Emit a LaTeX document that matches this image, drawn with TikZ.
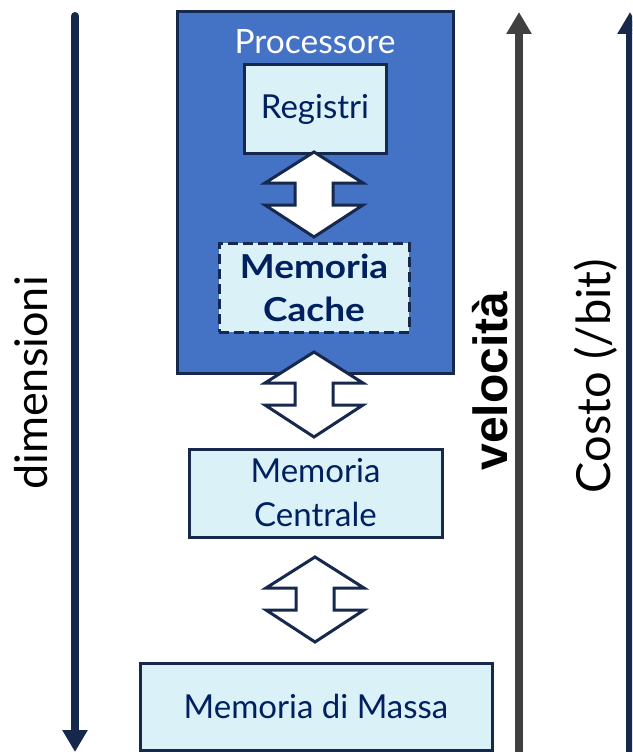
\documentclass[tikz,border=0pt]{standalone}
\usepackage{fontspec}
\setmainfont{Lato}
\newfontfamily\arialfont{Liberation Sans}
\usetikzlibrary{arrows.meta}
\definecolor{navy}{HTML}{16294D}
\definecolor{textnavy}{HTML}{002060}
\definecolor{procblue}{HTML}{4472C4}
\definecolor{lightcyan}{HTML}{DAF1F7}
\definecolor{darkgray}{HTML}{404040}
\tikzset{
  membox/.style={draw=navy, line width=3pt, fill=lightcyan, text=textnavy,
    align=center, inner sep=0pt, font=\fontsize{33}{44}\selectfont},
  procbox/.style={draw=navy, line width=3pt, fill=procblue, inner sep=0pt},
  dblarr/.pic={\draw[draw=navy, fill=white, line width=3pt, line join=miter]
     (0,0) -- (49,31) -- (19,31) -- (19,53) -- (49,53) -- (0,85)
     -- (-49,53) -- (-19,53) -- (-19,31) -- (-49,31) -- cycle;},
  sidearrow/.style={line width=8pt, -{Triangle[width=24pt,length=22pt]}},
  sidelabel/.style={rotate=90, anchor=base, inner sep=0pt}
}
\begin{document}
\begin{tikzpicture}[x=1pt,y=-1pt]
\useasboundingbox (0,0) rectangle (632,752);
\clip (0,0) rectangle (632,752);
% processor
\node[procbox, minimum width=276pt, minimum height=361pt] (proc) at (315,192.5) {};
\node[text=white, font=\fontsize{33.5}{37}\selectfont, anchor=base] (proclbl) at (315,53) {Processore};
\node[membox, minimum width=142pt, minimum height=88pt] (reg) at (315,109) {Registri};
\node[membox, dashed, dash pattern=on 10pt off 5pt, minimum width=190pt, minimum height=89pt,
      font=\fontsize{33}{43}\selectfont\bfseries\addfontfeatures{FakeStretch=1.12}] (cache) at (314,287.5) {Memoria\\Cache};
\node[membox, minimum width=253pt, minimum height=88pt] (central) at (315.5,493) {Memoria\\Centrale};
\node[membox, minimum width=352pt, minimum height=87pt] (massa) at (316,706.5) {Memoria di Massa};
% double arrows
\pic (a1) at (314,152) {dblarr};
\pic (a2) at (314,352) {dblarr};
\pic (a3) at (315,557) {dblarr};
% side arrows
\coordinate (dtop) at (75,16);
\coordinate (dbot) at (75,752);
\draw[sidearrow, navy, line cap=round] (dtop) -- (dbot);
\coordinate (vbot) at (519,760);
\coordinate (vtop) at (519,12);
\draw[sidearrow, darkgray] (vbot) -- (vtop);
\coordinate (cbot) at (630,760);
\coordinate (ctop) at (630,12);
\draw[sidearrow, navy] (cbot) -- (ctop);
% labels
\node[sidelabel, font=\fontsize{45}{50}\selectfont] (dim) at (47,383) {dimensioni};
\node[sidelabel, font=\fontsize{48}{56}\arialfont\bfseries] (vel) at (507,381) {velocità};
\node[sidelabel, font=\fontsize{47}{52}\selectfont] (cost) at (610,376) {Costo (/bit)};
\end{tikzpicture}
\end{document}
